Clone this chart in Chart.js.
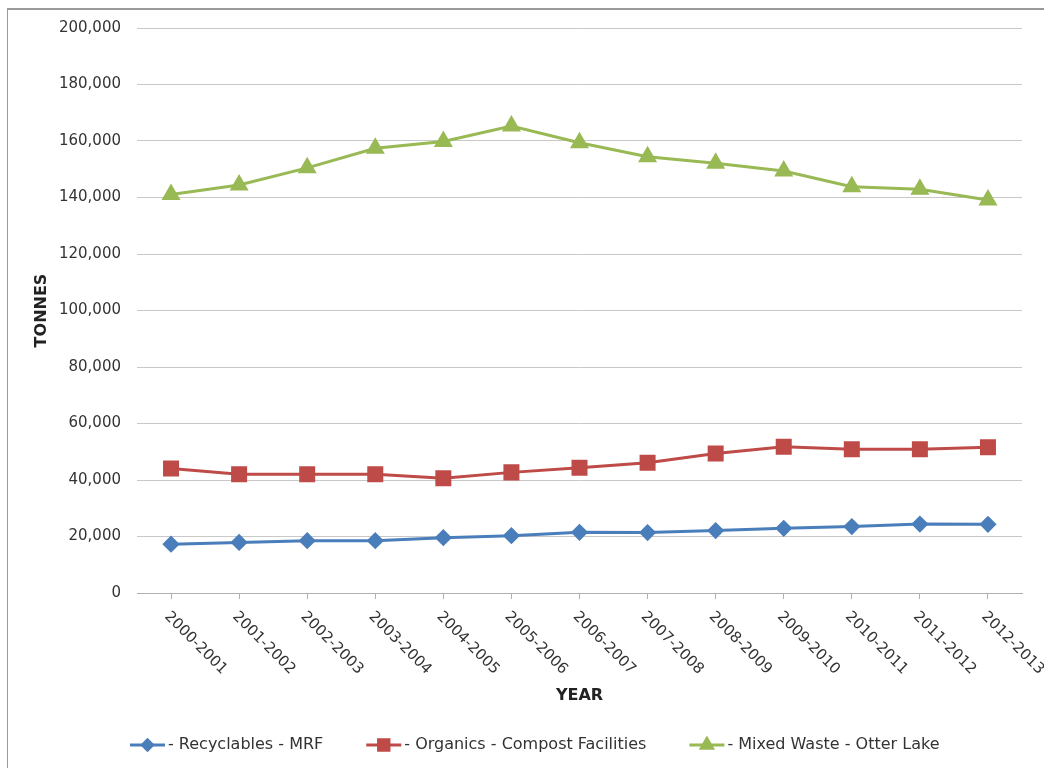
<!DOCTYPE html>
<html>
<head>
<meta charset="utf-8">
<title>Tonnes by stream</title>
<script src="https://cdn.jsdelivr.net/npm/chart.js@4.4.1/dist/chart.umd.min.js"></script>
<style>
  html, body { margin: 0; padding: 0; background: #fff; overflow: hidden; }
  #wrap { position: relative; width: 1044px; height: 768px; }
  #frame {
    position: absolute; left: 7px; top: 8px; width: 1100px; height: 800px;
    border-top: 2px solid #9a9a9a; border-left: 1px solid #9a9a9a;
  }
  #chart { position: absolute; left: 0; top: 0; }
</style>
</head>
<body>
<div id="wrap">
  <div id="frame"></div>
  <canvas id="chart" width="1044" height="768"></canvas>
</div>
<script>
// Fiscal years
const years = ['2000-2001', '2001-2002', '2002-2003', '2003-2004', '2004-2005', '2005-2006',
  '2006-2007', '2007-2008', '2008-2009', '2009-2010', '2010-2011', '2011-2012', '2012-2013'];

// Tonnes per stream
const recyclables = [17300, 17900, 18500, 18500, 19600, 20300, 21500, 21400, 22100, 22900, 23500, 24400, 24300];
const organics = [44100, 42000, 42000, 42000, 40600, 42700, 44300, 46100, 49400, 51800, 50900, 50900, 51600];
const mixedWaste = [141100, 144400, 150500, 157400, 159800, 165300, 159400, 154400, 152100, 149400, 143800, 142900, 139100];

const seriesNames = ['- Recyclables - MRF', '- Organics - Compost Facilities', '- Mixed Waste - Otter Lake'];

// Value axis
const yMin = 0;
const yMax = 200000;
const yStep = 20000;

const FONT = '"DejaVu Sans", Verdana, sans-serif';
const TEXT = '#333333';

// Rotated year labels under the category axis
const yearLabels = {
  id: 'yearLabels',
  afterDraw(chart) {
    const x = chart.scales.x;
    const ctx = chart.ctx;
    ctx.save();
    ctx.font = '15px ' + FONT;
    ctx.fillStyle = TEXT;
    ctx.textAlign = 'left';
    ctx.textBaseline = 'top';
    chart.data.labels.forEach((lab, i) => {
      const px = x.getPixelForValue(i);
      ctx.save();
      ctx.translate(px + 1, x.top + 16);
      ctx.rotate(Math.PI / 4);
      ctx.fillText(lab, 0, 0);
      ctx.restore();
    });
    ctx.restore();
  }
};

// Legend row: line sample with marker, then the series name
const lineLegend = {
  id: 'lineLegend',
  afterDraw(chart) {
    const ctx = chart.ctx;
    const y = 745;
    let x = 130;
    ctx.save();
    ctx.font = '16px ' + FONT;
    ctx.textBaseline = 'middle';
    ctx.textAlign = 'left';
    chart.data.datasets.forEach(ds => {
      ctx.strokeStyle = ds.borderColor;
      ctx.lineWidth = 3;
      ctx.beginPath();
      ctx.moveTo(x, y);
      ctx.lineTo(x + 35, y);
      ctx.stroke();
      ctx.fillStyle = ds.pointBackgroundColor;
      ctx.strokeStyle = ds.pointBorderColor;
      Chart.helpers.drawPoint(ctx, {
        pointStyle: ds.pointStyle,
        radius: ds.pointRadius * 0.8,
        borderWidth: 1
      }, x + 17.5, y);
      ctx.fillStyle = TEXT;
      ctx.fillText(ds.label, x + 38, y);
      x += 38 + ctx.measureText(ds.label).width + 43;
    });
    ctx.restore();
  }
};

function makeSeries(label, data, color, style, radius) {
  return {
    label, data,
    borderColor: color,
    backgroundColor: color,
    pointBackgroundColor: color,
    pointBorderColor: color,
    pointStyle: style,
    pointRadius: radius,
    pointHoverRadius: radius,
    borderWidth: 3,
    tension: 0
  };
}

new Chart(document.getElementById('chart'), {
  type: 'line',
  data: {
    labels: years,
    datasets: [
      makeSeries(seriesNames[0], recyclables, '#4a7ebb', 'rectRot', 6.5),
      makeSeries(seriesNames[1], organics, '#be4b48', 'rect', 9.2),
      makeSeries(seriesNames[2], mixedWaste, '#98b954', 'triangle', 8)
    ]
  },
  options: {
    responsive: false,
    animation: false,
    layout: { padding: { top: 28, right: 22, bottom: 0, left: 0 } },
    plugins: {
      legend: { display: false },
      tooltip: { enabled: false }
    },
    scales: {
      x: {
        type: 'category',
        offset: true,
        grid: {
          offset: false,
          drawOnChartArea: false,
          drawTicks: true,
          tickLength: 6,
          color: '#b0b0b0'
        },
        border: { display: true, color: '#b0b0b0', width: 1 },
        ticks: { display: false },
        title: {
          display: true,
          text: 'YEAR',
          color: '#222',
          font: { family: FONT, size: 16, weight: 'bold' },
          padding: { top: 0, bottom: 63 }
        },
        afterFit(scale) { scale.height = 175; }
      },
      y: {
        min: yMin,
        max: yMax,
        grid: { color: '#c8c8c8', drawTicks: false, lineWidth: 1 },
        border: { display: false },
        ticks: {
          stepSize: yStep,
          padding: 16,
          color: TEXT,
          font: { family: FONT, size: 15 },
          callback: v => v.toLocaleString('en-US')
        },
        title: {
          display: true,
          text: 'TONNES',
          color: '#222',
          font: { family: FONT, size: 16, weight: 'bold' },
          padding: { top: 32, bottom: 0 }
        },
        afterFit(scale) { scale.width = 137; }
      }
    }
  },
  plugins: [yearLabels, lineLegend]
});
</script>
</body>
</html>
